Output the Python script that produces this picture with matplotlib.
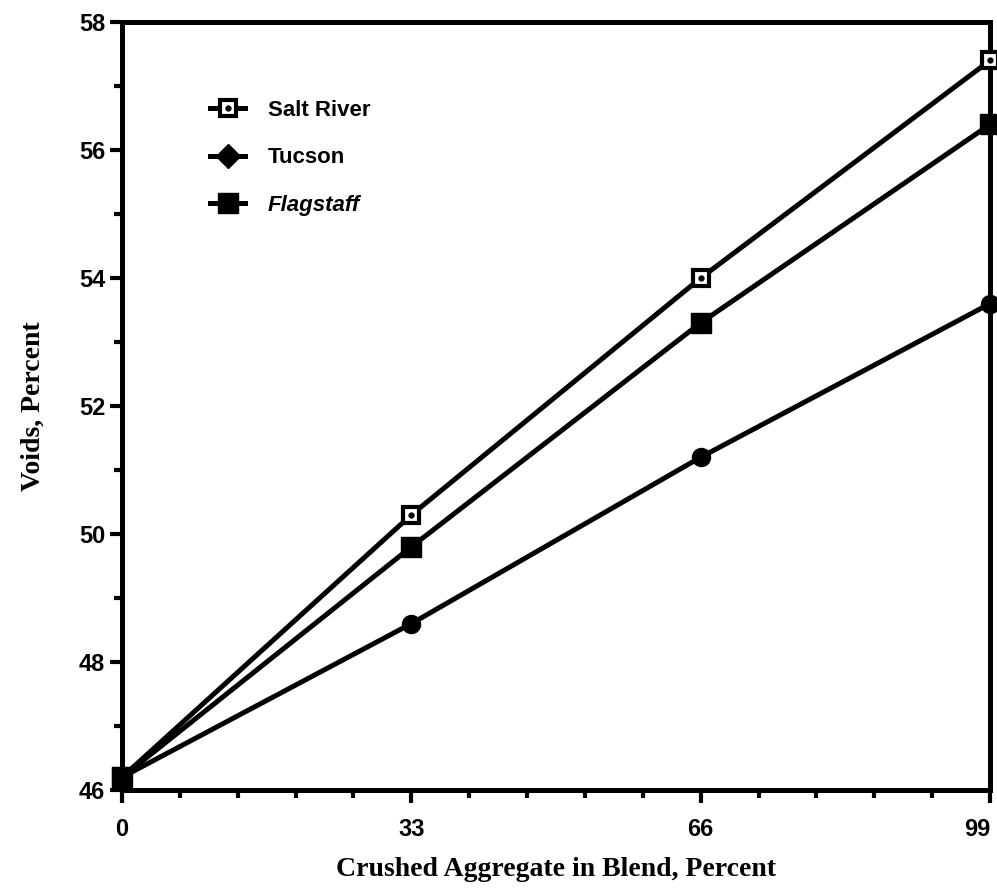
import matplotlib
matplotlib.use("Agg")
import matplotlib.pyplot as plt
from matplotlib.ticker import MultipleLocator
from matplotlib.legend_handler import HandlerTuple
from matplotlib.lines import Line2D

# crushed aggregate content in the blend (%)
crushed = [0, 33, 66, 99]

# voids (%) for each aggregate source
salt_river = [46.2, 50.3, 54.0, 57.4]
tucson = [46.2, 48.6, 51.2, 53.6]
flagstaff = [46.2, 49.8, 53.3, 56.4]

fig = plt.figure(figsize=(9.97, 8.92), dpi=100)
ax = fig.add_axes([0.1224, 0.1143, 0.8706, 0.861])

lw = 3.6
sr_line, = ax.plot(crushed, salt_river, color='black', lw=lw, marker='s', ms=12,
                   mfc='white', mec='black', mew=3, clip_on=False, zorder=3)
sr_dot, = ax.plot(crushed, salt_river, ls='none', marker='o', ms=3.5,
                  color='black', clip_on=False, zorder=4)
tu_line, = ax.plot(crushed, tucson, color='black', lw=lw, marker='o', ms=13,
                   clip_on=False, zorder=3)
fl_line, = ax.plot(crushed, flagstaff, color='black', lw=lw, marker='s', ms=14,
                   clip_on=False, zorder=3)

ax.set_xlim(0, 99)
ax.set_ylim(46, 58)
ax.set_xticks(crushed)
ax.xaxis.set_minor_locator(MultipleLocator(6.6))
ax.yaxis.set_major_locator(MultipleLocator(2))
ax.yaxis.set_minor_locator(MultipleLocator(1))

for s in ax.spines.values():
    s.set_linewidth(3.6)
ax.tick_params(which='major', direction='out', length=9, width=3)
ax.tick_params(axis='x', which='major', pad=11)
ax.tick_params(axis='y', which='major', pad=3)
ax.tick_params(which='minor', direction='out', length=6, width=3)
for lab in ax.get_xticklabels() + ax.get_yticklabels():
    lab.set_fontfamily('Liberation Sans')
    lab.set_fontweight('bold')
    lab.set_fontsize(17)
ax.get_xticklabels()[-1].set_horizontalalignment('right')

ax.set_xlabel('Crushed Aggregate in Blend, Percent', fontfamily='Liberation Serif',
              fontsize=20, fontweight='bold', labelpad=12)
ax.set_ylabel('Voids, Percent', fontfamily='Liberation Serif', fontsize=20,
              fontweight='bold', labelpad=24)

# legend keys: short line with the marker in the middle
tu_key = Line2D([], [], color='black', lw=lw, marker='D', ms=12)
leg = ax.legend([(sr_line, sr_dot), tu_key, fl_line], ['Salt River', 'Tucson', 'Flagstaff'],
                handler_map={tuple: HandlerTuple(ndivide=1, pad=0)},
                loc='upper left', bbox_to_anchor=(0.078, 0.925), frameon=False,
                handlelength=1.6, handletextpad=1.0, labelspacing=1.2,
                prop={'family': 'Liberation Sans', 'size': 16, 'weight': 'bold'})
leg.get_texts()[2].set_fontstyle('italic')

fig.savefig('out.png', dpi=100)
